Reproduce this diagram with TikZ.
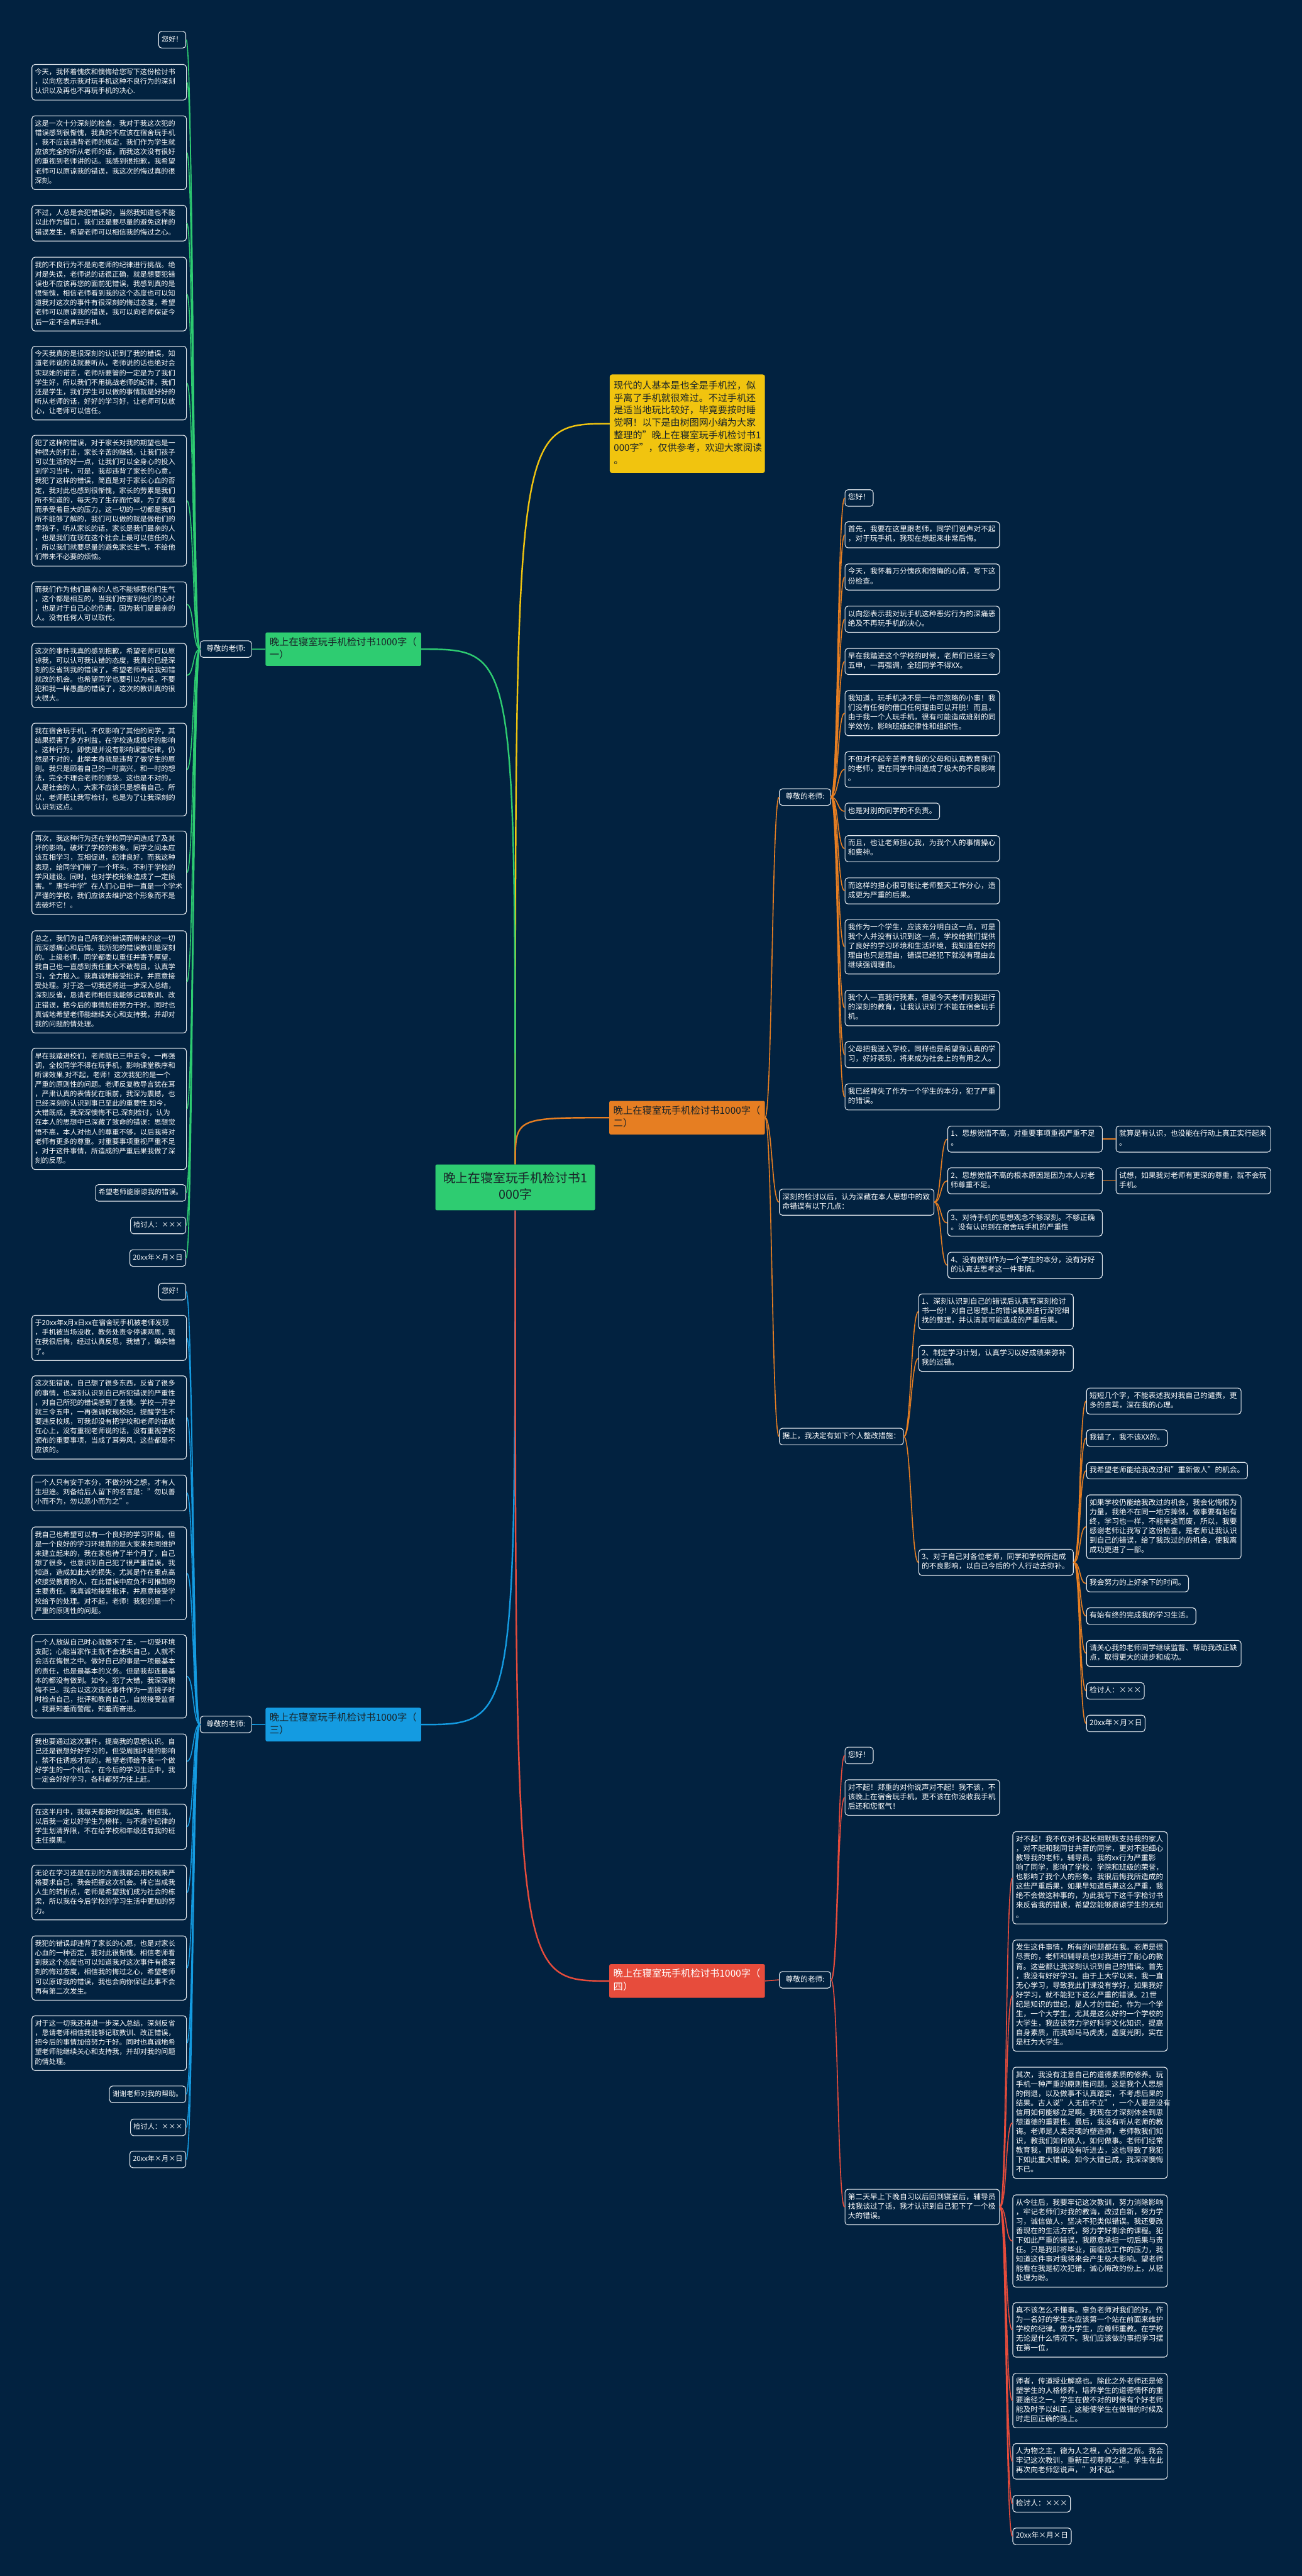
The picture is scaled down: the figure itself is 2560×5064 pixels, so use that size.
\documentclass[tikz,border=0pt]{standalone}
\usepackage{fontspec}
\setmainfont{Noto Sans CJK SC}
\definecolor{bgnavy}{RGB}{2,34,64}
\definecolor{boxline}{RGB}{225,230,236}
\definecolor{mygreen}{RGB}{46,204,113}
\definecolor{myorange}{RGB}{230,126,34}
\definecolor{myblue}{RGB}{20,155,225}
\definecolor{myred}{RGB}{231,76,60}
\definecolor{myyellow}{RGB}{241,196,15}
\definecolor{mydark}{RGB}{25,35,40}
\newcommand\szleft{\fontsize{13.8pt}{18.7pt}\selectfont}
\newcommand\szright{\fontsize{14.5pt}{18.6pt}\selectfont}
\tikzset{
  box/.style={draw=boxline, line width=1.4pt, rounded corners=6pt, fill=bgnavy,
    text=white, inner xsep=6pt, inner ysep=7pt, align=left,
    execute at begin node=\noindent\strut, execute at end node=\strut},
  lbox/.style={box, font=\szleft, text width=292pt, anchor=north west},
  lsbox/.style={box, font=\szleft, anchor=north east},
  rbox/.style={box, font=\szright, text width=292pt, anchor=north west},
  rsbox/.style={box, font=\szright, anchor=north west},
  tbox/.style={box, font=\szright, anchor=north west, minimum width=101pt},
  lbl/.style={rounded corners=3pt, inner xsep=8pt, inner ysep=8pt, text width=290pt,
    align=left, anchor=north west, text=mydark, font=\fontsize{19pt}{25pt}\selectfont,
    execute at begin node=\noindent\strut, execute at end node=\strut},
  rootnode/.style={fill=mygreen, rounded corners=3pt, inner xsep=13pt, inner ysep=13pt,
    text width=288pt, align=center, anchor=north west, text=mydark,
    font=\fontsize{24.5pt}{32pt}\selectfont,
    execute at begin node=\strut, execute at end node=\strut},
  intro/.style={fill=myyellow, rounded corners=4pt, inner xsep=8pt, inner ysep=11pt,
    text width=289pt, align=left, anchor=north west, text=mydark,
    font=\fontsize{18.6pt}{24.5pt}\selectfont,
    execute at begin node=\noindent\strut, execute at end node=\strut},
  mainline/.style={line width=3pt},
  subline/.style={line width=2pt}
}
\begin{document}
\begin{tikzpicture}[x=1pt, y=-1pt]
  \fill[bgnavy] (0,0) rectangle (2560,5064);
  \useasboundingbox (0,0) rectangle (2560,5064);

  % centre, intro and branch labels
  \node[rootnode] (root) at (856,2289) {晚上在寝室玩手机检讨书1\\000字};
  \node[intro] (intro) at (1199,736) {现代的人基本是也全是手机控，似\\乎离了手机就很难过。不过手机还\\是适当地玩比较好，毕竟要按时睡\\觉啊！以下是由树图网小编为大家\\整理的"晚上在寝室玩手机检讨书1\\000字"，仅供参考，欢迎大家阅读\\。};
  \node[lbl, fill=mygreen] (s1) at (522,1243) {晚上在寝室玩手机检讨书1000字（\\一）};
  \node[lbl, fill=myorange] (s2) at (1198,2164) {晚上在寝室玩手机检讨书1000字（\\二）};
  \node[lbl, fill=myblue] (s3) at (522,3357) {晚上在寝室玩手机检讨书1000字（\\三）};
  \node[lbl, fill=myred, text=white] (s4) at (1198,3861) {晚上在寝室玩手机检讨书1000字（\\四）};

  \node[tbox] (t1) at (393,1259) {尊敬的老师:};
  \node[tbox] (t2) at (1532,1550) {尊敬的老师:};
  \node[tbox] (t3) at (393,3373) {尊敬的老师:};
  \node[tbox] (t4) at (1532,3875) {尊敬的老师:};

  % branch one
  \node[lsbox] (p1o) at (366,61) {您好！};
  \node[lbox] (p1a) at (62,126) {今天，我怀着愧疚和懊悔给您写下这份检讨书\\，以向您表示我对玩手机这种不良行为的深刻\\认识以及再也不再玩手机的决心.};
  \node[lbox] (p1b) at (62,227) {这是一次十分深刻的检查，我对于我这次犯的\\错误感到很惭愧，我真的不应该在宿舍玩手机\\，我不应该违背老师的规定，我们作为学生就\\应该完全的听从老师的话，而我这次没有很好\\的重视到老师讲的话。我感到很抱歉，我希望\\老师可以原谅我的错误，我这次的悔过真的很\\深刻。};
  \node[lbox] (p1c) at (62,403) {不过，人总是会犯错误的，当然我知道也不能\\以此作为借口，我们还是要尽量的避免这样的\\错误发生，希望老师可以相信我的悔过之心。};
  \node[lbox] (p1d) at (62,505) {我的不良行为不是向老师的纪律进行挑战。绝\\对是失误，老师说的话很正确，就是想要犯错\\误也不应该再您的面前犯错误，我感到真的是\\很惭愧，相信老师看到我的这个态度也可以知\\道我对这次的事件有很深刻的悔过态度，希望\\老师可以原谅我的错误，我可以向老师保证今\\后一定不会再玩手机。};
  \node[lbox] (p1e) at (62,680) {今天我真的是很深刻的认识到了我的错误，知\\道老师说的话就要听从，老师说的话也绝对会\\实现她的诺言，老师所要管的一定是为了我们\\学生好，所以我们不用挑战老师的纪律，我们\\还是学生，我们学生可以做的事情就是好好的\\听从老师的话，好好的学习好，让老师可以放\\心，让老师可以信任。};
  \node[lbox] (p1f) at (62,855) {犯了这样的错误，对于家长对我的期望也是一\\种很大的打击，家长辛苦的赚钱，让我们孩子\\可以生活的好一点，让我们可以全身心的投入\\到学习当中，可是，我却违背了家长的心意，\\我犯了这样的错误，简直是对于家长心血的否\\定，我对此也感到很惭愧，家长的劳累是我们\\所不知道的，每天为了生存而忙碌，为了家庭\\而承受着巨大的压力，这一切的一切都是我们\\所不能够了解的，我们可以做的就是做他们的\\乖孩子，听从家长的话，家长是我们最亲的人\\，也是我们在现在这个社会上最可以信任的人\\，所以我们就要尽量的避免家长生气，不给他\\们带来不必要的烦恼。};
  \node[lbox] (p1g) at (62,1143) {而我们作为他们最亲的人也不能够惹他们生气\\，这个都是相互的，当我们伤害到他们的心时\\，也是对于自己心的伤害，因为我们是最亲的\\人。没有任何人可以取代。};
  \node[lbox] (p1h) at (62,1264) {这次的事件我真的感到抱歉，希望老师可以原\\谅我，可以认可我认错的态度，我真的已经深\\刻的反省到我的错误了，希望老师再给我知错\\就改的机会。也希望同学也要引以为戒，不要\\犯和我一样愚蠢的错误了，这次的教训真的很\\大很大。};
  \node[lbox] (p1i) at (62,1421) {我在宿舍玩手机，不仅影响了其他的同学，其\\结果损害了多方利益，在学校造成极坏的影响\\。这种行为，即使是并没有影响课堂纪律，仍\\然是不对的，此举本身就是违背了做学生的原\\则。我只是顾着自己的一时高兴，和一时的想\\法，完全不理会老师的感受。这也是不对的，\\人是社会的人，大家不应该只是想着自己。所\\以，老师把让我写检讨，也是为了让我深刻的\\认识到这点。};
  \node[lbox] (p1j) at (62,1633) {再次，我这种行为还在学校同学间造成了及其\\坏的影响，破坏了学校的形象。同学之间本应\\该互相学习，互相促进，纪律良好，而我这种\\表现，给同学们带了一个坏头，不利于学校的\\学风建设。同时，也对学校形象造成了一定损\\害。"惠华中学"在人们心目中一直是一个学术\\严谨的学校，我们应该去维护这个形象而不是\\去破坏它！。};
  \node[lbox] (p1k) at (62,1829) {总之，我们为自己所犯的错误而带来的这一切\\而深感痛心和后悔。我所犯的错误教训是深刻\\的。上级老师，同学都委以重任并寄予厚望，\\我自己也一直感到责任重大不敢苟且，认真学\\习，全力投入。我真诚地接受批评，并愿意接\\受处理。对于这一切我还将进一步深入总结，\\深刻反省，恳请老师相信我能够记取教训、改\\正错误，把今后的事情加倍努力干好。同时也\\真诚地希望老师能继续关心和支持我，并却对\\我的问题酌情处理。};
  \node[lbox] (p1l) at (62,2060) {早在我踏进校们，老师就已三申五令，一再强\\调，全校同学不得在玩手机，影响课堂秩序和\\听课效果.对不起，老师！这次我犯的是一个\\严重的原则性的问题。老师反复教导言犹在耳\\，严肃认真的表情犹在眼前，我深为震撼，也\\已经深刻的认识到事已至此的重要性.如今，\\大错既成，我深深懊悔不已.深刻检讨，认为\\在本人的思想中已深藏了致命的错误：思想觉\\悟不高，本人对他人的尊重不够，以后我将对\\老师有更多的尊重。对重要事项重视严重不足\\，对于这件事情，所造成的严重后果我做了深\\刻的反思。};
  \node[lsbox] (p1w) at (366,2328) {希望老师能原谅我的错误。};
  \node[lsbox] (p1s) at (366,2392) {检讨人：×××};
  \node[lsbox] (p1t) at (366,2456) {20xx年×月×日};

  % branch three
  \node[lsbox] (p3o) at (366,2522) {您好！};
  \node[lbox] (p3a) at (62,2585) {于20xx年x月x日xx在宿舍玩手机被老师发现\\，手机被当场没收，教务处责令停课两周，现\\在我很后悔，经过认真反思，我错了，确实错\\了。};
  \node[lbox] (p3b) at (62,2704) {这次犯错误，自己想了很多东西，反省了很多\\的事情，也深刻认识到自己所犯错误的严重性\\，对自己所犯的错误感到了羞愧。学校一开学\\就三令五申，一再强调校规校纪，提醒学生不\\要违反校规，可我却没有把学校和老师的话放\\在心上，没有重视老师说的话，没有重视学校\\颁布的重要事项，当成了耳旁风，这些都是不\\应该的。};
  \node[lbox] (p3c) at (62,2899) {一个人只有安于本分，不做分外之想，才有人\\生坦途。刘备给后人留下的名言是："勿以善\\小而不为，勿以恶小而为之"。};
  \node[lbox] (p3d) at (62,3001) {我自己也希望可以有一个良好的学习环境，但\\是一个良好的学习环境靠的是大家来共同维护\\来建立起来的，我在家也待了半个月了，自己\\想了很多，也意识到自己犯了很严重错误，我\\知道，造成如此大的损失，尤其是作在重点高\\校接受教育的人，在此错误中应负不可推卸的\\主要责任。我真诚地接受批评，并愿意接受学\\校给予的处理。对不起，老师！我犯的是一个\\严重的原则性的问题。};
  \node[lbox] (p3e) at (62,3213) {一个人放纵自己时心就做不了主，一切受环境\\支配；心能当家作主就不会迷失自己，人就不\\会活在悔恨之中。做好自己的事是一项最基本\\的责任，也是最基本的义务。但是我却连最基\\本的都没有做到。如今，犯了大错，我深深懊\\悔不已。我会以这次违纪事件作为一面镜子时\\时检点自己，批评和教育自己，自觉接受监督\\。我要知羞而警醒，知羞而奋进。};
  \node[lbox] (p3f) at (62,3408) {我也要通过这次事件，提高我的思想认识。自\\己还是很想好好学习的，但受周围环境的影响\\，禁不住诱惑才玩的，希望老师给予我一个做\\好学生的一个机会，在今后的学习生活中，我\\一定会好好学习，各科都努力往上赶。};
  \node[lbox] (p3g) at (62,3546) {在这半月中，我每天都按时就起床，相信我，\\以后我一定以好学生为榜样，与不遵守纪律的\\学生划清界限，不在给学校和年级还有我的班\\主任摸黑。};
  \node[lbox] (p3h) at (62,3666) {无论在学习还是在别的方面我都会用校规来严\\格要求自己，我会把握这次机会。将它当成我\\人生的转折点，老师是希望我们成为社会的栋\\梁，所以我在今后学校的学习生活中更加的努\\力。};
  \node[lbox] (p3i) at (62,3805) {我犯的错误却违背了家长的心愿，也是对家长\\心血的一种否定，我对此很惭愧。相信老师看\\到我这个态度也可以知道我对这次事件有很深\\刻的悔过态度，相信我的悔过之心，希望老师\\可以原谅我的错误，我也会向你保证此事不会\\再有第二次发生。};
  \node[lbox] (p3j) at (62,3962) {对于这一切我还将进一步深入总结，深刻反省\\，恳请老师相信我能够记取教训、改正错误，\\把今后的事情加倍努力干好。同时也真诚地希\\望老师能继续关心和支持我，并却对我的问题\\酌情处理。};
  \node[lsbox] (p3w) at (366,4100) {谢谢老师对我的帮助。};
  \node[lsbox] (p3s) at (366,4165) {检讨人：×××};
  \node[lsbox] (p3t) at (366,4228) {20xx年×月×日};

  % branch two
  \node[rsbox] (q2o) at (1661,962) {您好！};
  \node[rbox] (q2a) at (1661,1025) {首先，我要在这里跟老师，同学们说声对不起\\，对于玩手机，我现在想起来非常后悔。};
  \node[rbox] (q2b) at (1661,1108) {今天，我怀着万分愧疚和懊悔的心情，写下这\\份检查。};
  \node[rbox] (q2c) at (1661,1191) {以向您表示我对玩手机这种恶劣行为的深痛恶\\绝及不再玩手机的决心。};
  \node[rbox] (q2d) at (1661,1274) {早在我踏进这个学校的时候，老师们已经三令\\五申，一再强调，全班同学不得XX。};
  \node[rbox] (q2e) at (1661,1357) {我知道，玩手机决不是一件可忽略的小事！我\\们没有任何的借口任何理由可以开脱！而且，\\由于我一个人玩手机，很有可能造成班别的同\\学效仿，影响班级纪律性和组织性。};
  \node[rbox] (q2f) at (1661,1477) {不但对不起辛苦养育我的父母和认真教育我们\\的老师，更在同学中间造成了极大的不良影响\\。};
  \node[rsbox] (q2g) at (1661,1578) {也是对别的同学的不负责。};
  \node[rbox] (q2h) at (1661,1642) {而且，也让老师担心我，为我个人的事情操心\\和费神。};
  \node[rbox] (q2i) at (1661,1725) {而这样的担心很可能让老师整天工作分心，造\\成更为严重的后果。};
  \node[rbox] (q2j) at (1661,1807) {我作为一个学生，应该充分明白这一点，可是\\我个人并没有认识到这一点，学校给我们提供\\了良好的学习环境和生活环境，我知道在好的\\理由也只是理由，错误已经犯下就没有理由去\\继续强调理由。};
  \node[rbox] (q2k) at (1661,1946) {我个人一直我行我素，但是今天老师对我进行\\的深刻的教育，让我认识到了不能在宿舍玩手\\机。};
  \node[rbox] (q2l) at (1661,2047) {父母把我送入学校，同样也是希望我认真的学\\习，好好表现，将来成为社会上的有用之人。};
  \node[rbox] (q2m) at (1661,2130) {我已经背失了作为一个学生的本分，犯了严重\\的错误。};

  \node[rbox] (k2) at (1532,2337) {深刻的检讨以后，认为深藏在本人思想中的致\\命错误有以下几点：};
  \node[rbox] (c1) at (1863,2213) {1、思想觉悟不高，对重要事项重视严重不足\\。};
  \node[rbox] (c2) at (1863,2295) {2、思想觉悟不高的根本原因是因为本人对老\\师尊重不足。};
  \node[rbox] (c3) at (1863,2378) {3、对待手机的思想观念不够深刻。不够正确\\。没有认识到在宿舍玩手机的严重性};
  \node[rbox] (c4) at (1863,2461) {4、没有做到作为一个学生的本分，没有好好\\的认真去思考这一件事情。};
  \node[rbox] (c1x) at (2194,2213) {就算是有认识，也没能在行动上真正实行起来\\。};
  \node[rbox] (c2x) at (2194,2295) {试想，如果我对老师有更深的尊重，就不会玩\\手机。};

  \node[rsbox] (j2) at (1532,2807) {据上，我决定有如下个人整改措施：};
  \node[rbox] (d1) at (1806,2543) {1、深刻认识到自己的错误后认真写深刻检讨\\书一份！对自己思想上的错误根源进行深挖细\\找的整理，并认清其可能造成的严重后果。};
  \node[rbox] (d2) at (1806,2644) {2、制定学习计划，认真学习以好成绩来弥补\\我的过错。};
  \node[rbox] (d3) at (1806,3045) {3、对于自己对各位老师，同学和学校所造成\\的不良影响，以自己今后的个人行动去弥补。};
  \node[rbox] (e1) at (2136,2728) {短短几个字，不能表述我对我自己的谴责，更\\多的责骂，深在我的心理。};
  \node[rsbox] (e2) at (2136,2810) {我错了，我不该XX的。};
  \node[rsbox] (e3) at (2136,2874) {我希望老师能给我改过和"重新做人"的机会。};
  \node[rbox] (e4) at (2136,2938) {如果学校仍能给我改过的机会，我会化悔恨为\\力量，我绝不在同一地方摔倒，做事要有始有\\终，学习也一样，不能半途而废，所以，我要\\感谢老师让我写了这份检查，是老师让我认识\\到自己的错误，给了我改过的的机会，使我离\\成功更进了一部。};
  \node[rsbox] (e5) at (2136,3096) {我会努力的上好余下的时间。};
  \node[rsbox] (e6) at (2136,3160) {有始有终的完成我的学习生活。};
  \node[rbox] (e7) at (2136,3224) {请关心我的老师同学继续监督、帮助我改正缺\\点，取得更大的进步和成功。};
  \node[rsbox] (e8) at (2136,3307) {检讨人：×××};
  \node[rsbox] (e9) at (2136,3371) {20xx年×月×日};

  % branch four
  \node[rsbox] (q4o) at (1661,3434) {您好！};
  \node[rbox] (q4a) at (1661,3498) {对不起！郑重的对你说声对不起！我不该，不\\该晚上在宿舍玩手机，更不该在你没收我手机\\后还和您怄气！};
  \node[rbox] (n4) at (1661,4303) {第二天早上下晚自习以后回到寝室后，辅导员\\找我谈过了话，我才认识到自己犯下了一个极\\大的错误。};
  \node[rbox] (g1) at (1991,3600) {对不起！我不仅对不起长期默默支持我的家人\\，对不起和我同甘共苦的同学，更对不起细心\\教导我的老师，辅导员。我的xx行为严重影\\响了同学，影响了学校，学院和班级的荣誉，\\也影响了我个人的形象。我很后悔我所造成的\\这些严重后果，如果早知道后果这么严重，我\\绝不会做这种事的，为此我写下这千字检讨书\\来反省我的错误，希望您能够原谅学生的无知\\。};
  \node[rbox] (g2) at (1991,3813) {发生这件事情，所有的问题都在我。老师是很\\尽责的，老师和辅导员也对我进行了耐心的教\\育。这些都让我深刻认识到自己的错误。首先\\，我没有好好学习。由于上大学以来，我一直\\无心学习，导致我此们课没有学好，如果我好\\好学习，就不能犯下这么严重的错误。21世\\纪是知识的世纪，是人才的世纪，作为一个学\\生，一个大学生，尤其是这么好的一个学校的\\大学生，我应该努力学好科学文化知识，提高\\自身素质，而我却马马虎虎，虚度光阴，实在\\是枉为大学生。};
  \node[rbox] (g3) at (1991,4063) {其次，我没有注意自己的道德素质的修养。玩\\手机一种严重的原则性问题。这是我个人思想\\的倒退，以及做事不认真踏实，不考虑后果的\\结果。古人说"人无信不立"，一个人要是没有\\信用如何能够立足啊。我现在才深刻体会到思\\想道德的重要性。最后，我没有听从老师的教\\诲。老师是人类灵魂的塑造师，老师教我们知\\识，教我们如何做人，如何做事。老师们经常\\教育我，而我却没有听进去，这也导致了我犯\\下如此重大错误。如今大错已成，我深深懊悔\\不已。};
  \node[rbox] (g4) at (1991,4314) {从今往后，我要牢记这次教训，努力消除影响\\，牢记老师们对我的教诲，改过自新，努力学\\习，诚信做人，坚决不犯类似错误。我还要改\\善现在的生活方式，努力学好剩余的课程。犯\\下如此严重的错误，我愿意承担一切后果与责\\任。只是我即将毕业，面临找工作的压力，我\\知道这件事对我将来会产生极大影响。望老师\\能看在我是初次犯错，诚心悔改的份上，从轻\\处理为盼。};
  \node[rbox] (g5) at (1991,4526) {真不该怎么不懂事。辜负老师对我们的好。作\\为一名好的学生本应该第一个站在前面来维护\\学校的纪律。做为学生，应尊师重教。在学校\\无论是什么情况下。我们应该做的事把学习摆\\在第一位，};
  \node[rbox] (g6) at (1991,4665) {师者，传道授业解惑也。除此之外老师还是修\\塑学生的人格修养，培养学生的道德情怀的重\\要途径之一。学生在做不对的时候有个好老师\\能及时予以纠正，这能使学生在做错的时候及\\时走回正确的路上。};
  \node[rbox] (g7) at (1991,4803) {人为物之主，德为人之根，心为德之所。我会\\牢记这次教训，重新正视尊师之道。学生在此\\再次向老师您说声，"对不起。"};
  \node[rsbox] (g8) at (1991,4905) {检讨人：×××};
  \node[rsbox] (g9) at (1991,4969) {20xx年×月×日};

  % main branches
  \draw[mainline, myyellow] (root.north) .. controls (root.north |- intro.west) .. (intro.west);
  \draw[mainline, mygreen] (root.north) .. controls (root.north |- s1.east) .. (s1.east);
  \draw[mainline, myorange] (root.north) .. controls (root.north |- s2.west) .. (s2.west);
  \draw[mainline, myblue] (root.south) .. controls (root.south |- s3.east) .. (s3.east);
  \draw[mainline, myred] (root.south) .. controls (root.south |- s4.west) .. (s4.west);

  % left side connectors
  \draw[subline, mygreen] (s1.west) -- (t1.east);
  \foreach \c in {p1o,p1a,p1b,p1c,p1d,p1e,p1f,p1g,p1h,p1i,p1j,p1k,p1l,p1w,p1s,p1t}
    \draw[subline, mygreen] (t1.west) .. controls +(-14,0) and +(14,0) .. (\c.east);
  \draw[subline, myblue] (s3.west) -- (t3.east);
  \foreach \c in {p3o,p3a,p3b,p3c,p3d,p3e,p3f,p3g,p3h,p3i,p3j,p3w,p3s,p3t}
    \draw[subline, myblue] (t3.west) .. controls +(-14,0) and +(14,0) .. (\c.east);

  % right side connectors
  \foreach \c in {t2,k2,j2}
    \draw[subline, myorange] (s2.east) .. controls +(14,0) and +(-14,0) .. (\c.west);
  \foreach \c in {q2o,q2a,q2b,q2c,q2d,q2e,q2f,q2g,q2h,q2i,q2j,q2k,q2l,q2m}
    \draw[subline, myorange] (t2.east) .. controls +(14,0) and +(-14,0) .. (\c.west);
  \foreach \c in {c1,c2,c3,c4}
    \draw[subline, myorange] (k2.east) .. controls +(14,0) and +(-14,0) .. (\c.west);
  \draw[subline, myorange] (c1.east) -- (c1x.west);
  \draw[subline, myorange] (c2.east) -- (c2x.west);
  \foreach \c in {d1,d2,d3}
    \draw[subline, myorange] (j2.east) .. controls +(14,0) and +(-14,0) .. (\c.west);
  \foreach \c in {e1,e2,e3,e4,e5,e6,e7,e8,e9}
    \draw[subline, myorange] (d3.east) .. controls +(14,0) and +(-14,0) .. (\c.west);
  \draw[subline, myred] (s4.east) -- (t4.west);
  \foreach \c in {q4o,q4a,n4}
    \draw[subline, myred] (t4.east) .. controls +(14,0) and +(-14,0) .. (\c.west);
  \foreach \c in {g1,g2,g3,g4,g5,g6,g7,g8,g9}
    \draw[subline, myred] (n4.east) .. controls +(14,0) and +(-14,0) .. (\c.west);
\end{tikzpicture}
\end{document}
